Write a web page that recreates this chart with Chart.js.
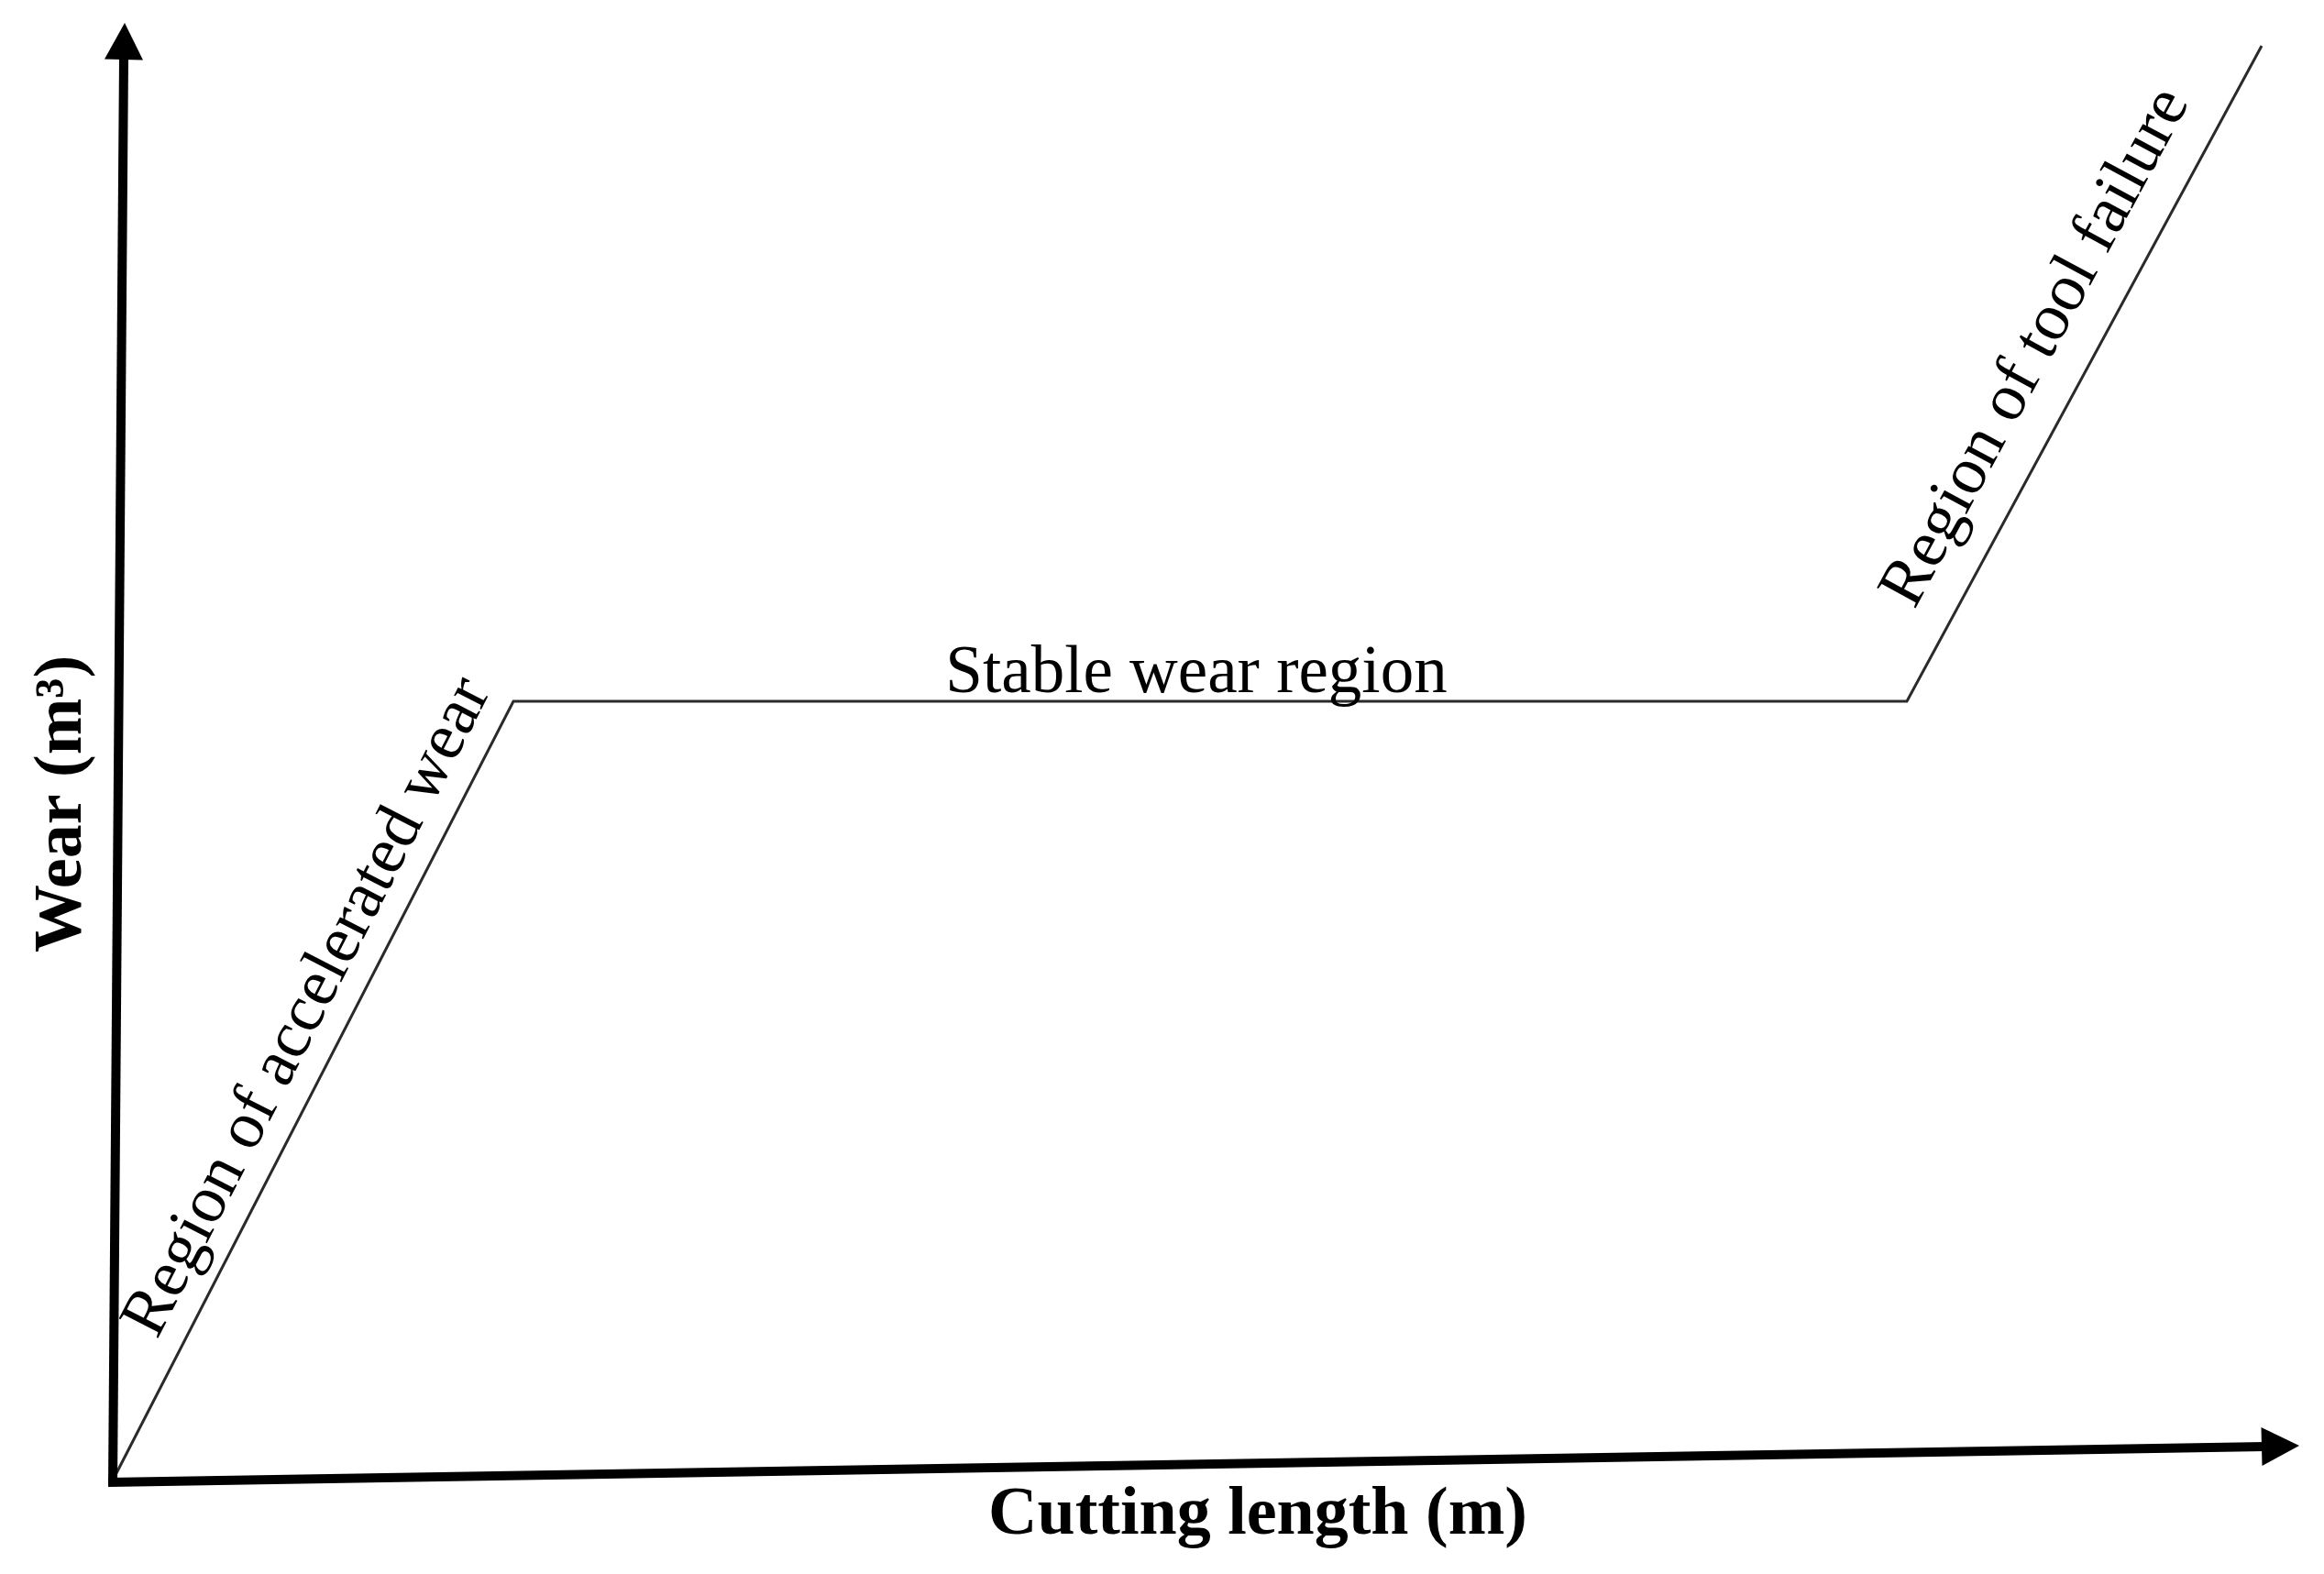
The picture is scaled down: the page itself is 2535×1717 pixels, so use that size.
<!DOCTYPE html>
<html>
<head>
<meta charset="utf-8">
<script src="https://cdn.jsdelivr.net/npm/chart.js"></script>
<style>
  body { margin: 0; background: #fff; }
  canvas { display: block; }
</style>
</head>
<body>
<canvas id="wearChart" width="2535" height="1717"></canvas>
<script>
// tool wear curve, arbitrary units
const cuttingLength = [0.2, 43.5, 195.5, 234.2];
const wear = [0.8, 85, 85, 156.5];
const regionLabels = ['Region of accelerated wear', 'Stable wear region', 'Region of tool failure'];
const xTitle = 'Cutting length (m)';
const yTitle = 'Wear (m\u00b3)';

const SERIF = "'Liberation Serif', 'Times New Roman', serif";

const points = cuttingLength.map((x, i) => ({ x: x, y: wear[i] }));

function arrow(ctx, tip, base, half) {
  const dx = tip.x - base.x, dy = tip.y - base.y;
  const len = Math.hypot(dx, dy);
  const nx = -dy / len, ny = dx / len;
  ctx.beginPath();
  ctx.moveTo(tip.x, tip.y);
  ctx.lineTo(base.x + nx * half, base.y + ny * half);
  ctx.lineTo(base.x - nx * half, base.y - ny * half);
  ctx.closePath();
  ctx.fill();
}

// text running along a segment of the curve
function alongText(ctx, a, b, text, along, off) {
  const dx = b.x - a.x, dy = b.y - a.y;
  const len = Math.hypot(dx, dy);
  const ux = dx / len, uy = dy / len;
  const nx = uy, ny = -ux;
  const cx = (a.x + b.x) / 2 + ux * along + nx * off;
  const cy = (a.y + b.y) / 2 + uy * along + ny * off;
  ctx.save();
  ctx.translate(cx, cy);
  ctx.rotate(Math.atan2(dy, dx));
  ctx.fillText(text, 0, 0);
  ctx.restore();
}

const decorations = {
  id: 'decorations',
  afterDatasetsDraw(chart) {
    const ctx = chart.ctx;
    const xs = chart.scales.x, ys = chart.scales.y;
    const px = (x, y) => ({ x: xs.getPixelForValue(x), y: ys.getPixelForValue(y) });

    ctx.save();
    ctx.strokeStyle = '#000';
    ctx.fillStyle = '#000';
    ctx.lineWidth = 10;
    ctx.lineCap = 'butt';

    // y axis (slightly leaning, as in the original drawing)
    let s = px(-0.2, -0.4), e = px(1.0, 155.2);
    ctx.beginPath(); ctx.moveTo(s.x, s.y); ctx.lineTo(e.x, e.y); ctx.stroke();
    arrow(ctx, px(1.1, 159.0), px(1.0, 155.0), 21);

    // x axis
    s = px(-0.7, -0.2); e = px(234.6, 3.7);
    ctx.beginPath(); ctx.moveTo(s.x, s.y); ctx.lineTo(e.x, e.y); ctx.stroke();
    arrow(ctx, px(238.3, 3.8), px(234.2, 3.7), 21);

    // axis titles
    ctx.font = 'bold 74px ' + SERIF;
    ctx.textAlign = 'center';
    ctx.textBaseline = 'alphabetic';
    ctx.fillText(xTitle, 1372, 1673);
    ctx.save();
    ctx.translate(88, 877);
    ctx.rotate(-Math.PI / 2);
    ctx.fillText(yTitle, 0, 0);
    ctx.restore();

    // region labels
    const p = points.map(q => px(q.x, q.y));
    ctx.font = '73px ' + SERIF;
    alongText(ctx, p[0], p[1], regionLabels[0], 74, 27);
    ctx.fillText(regionLabels[1], (p[1].x + p[2].x) / 2 - 15, p[1].y - 10);
    alongText(ctx, p[2], p[3], regionLabels[2], 0, 40);
    ctx.restore();
  }
};

new Chart(document.getElementById('wearChart'), {
  type: 'line',
  data: {
    datasets: [{
      label: 'Wear',
      data: points,
      borderColor: '#2a2a2a',
      borderWidth: 3,
      pointRadius: 0,
      tension: 0,
      fill: false,
      clip: false
    }]
  },
  options: {
    responsive: false,
    animation: false,
    devicePixelRatio: 1,
    layout: { padding: 0 },
    plugins: { legend: { display: false }, tooltip: { enabled: false } },
    scales: {
      x: { type: 'linear', display: false, min: -12.5, max: 241.0 },
      y: { type: 'linear', display: false, min: -10.2, max: 161.5 }
    }
  },
  plugins: [decorations]
});
</script>
</body>
</html>
